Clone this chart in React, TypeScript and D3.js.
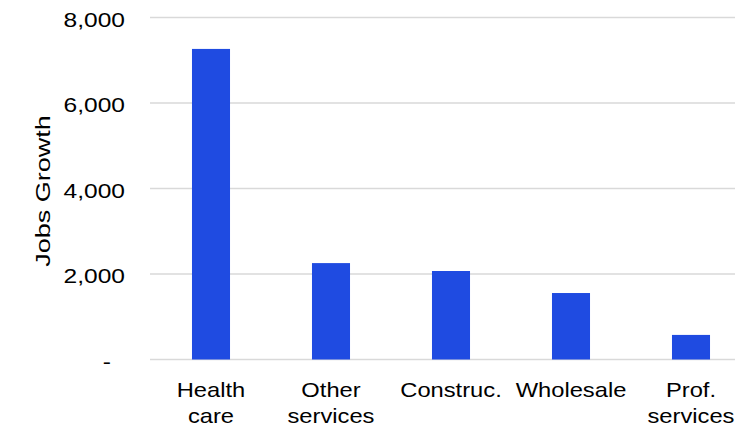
import React from "react";
import * as d3 from "d3";

const categories: string[][] = [
  ["Health", "care"],
  ["Other", "services"],
  ["Construc."],
  ["Wholesale"],
  ["Prof.", "services"],
];
const values: number[] = [7265, 2255, 2070, 1555, 575];
const tickValues: number[] = [0, 2000, 4000, 6000, 8000];
const tickLabels: string[] = ["-", "2,000", "4,000", "6,000", "8,000"];
const yTitle = "Jobs Growth";

const W = 735;
const H = 429;
const FONT = "'Liberation Sans', Arial, sans-serif";

export default function App() {
  const keys = categories.map((c) => c.join(" "));
  const x = d3
    .scaleBand<string>()
    .domain(keys)
    .range([151, 751])
    .paddingInner(0.683)
    .paddingOuter(0.3415);
  const y = d3.scaleLinear().domain([0, 8000]).range([359.5, 17.5]);

  return (
    <svg
      width={W}
      height={H}
      style={{ position: "absolute", left: 0, top: 0, display: "block", background: "#fff" }}
      fontFamily={FONT}
    >
      <rect x={0} y={0} width={W} height={H} fill="#fff" />
      {tickValues.map((t, i) => (
        <g key={t}>
          <line x1={150} x2={W} y1={y(t)} y2={y(t)} stroke="#d9d9d9" strokeWidth={1.5} />
          <text
            transform={`translate(${i === 0 ? 111 : 125},${y(t) + 9}) scale(1.17,1)`}
            textAnchor="end"
            fontSize={21}
            fill="#000"
          >
            {tickLabels[i]}
          </text>
        </g>
      ))}
      {values.map((v, i) => (
        <rect
          key={keys[i]}
          x={x(keys[i])}
          y={y(v)}
          width={x.bandwidth()}
          height={y(0) - y(v)}
          fill="#1f4be1"
        />
      ))}
      {categories.map((lines, i) => {
        const cx = (x(keys[i]) as number) + x.bandwidth() / 2;
        return (
          <g key={keys[i]} transform={`translate(${cx},0) scale(1.13,1)`}>
            <text textAnchor="middle" fontSize={21} fill="#000">
              {lines.map((l, j) => (
                <tspan key={j} x={0} y={397 + j * 26}>
                  {l}
                </tspan>
              ))}
            </text>
          </g>
        );
      })}
      <text
        transform={`translate(50,191) rotate(-90) scale(1.35,1)`}
        textAnchor="middle"
        fontSize={20}
        fill="#000"
      >
        {yTitle}
      </text>
    </svg>
  );
}
